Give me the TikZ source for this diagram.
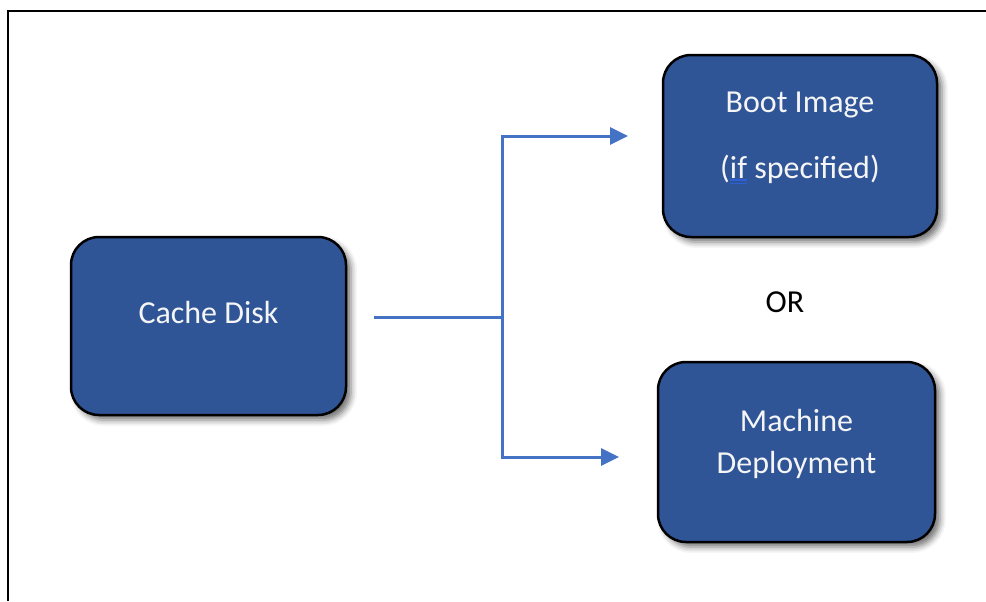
\documentclass[tikz,border=0pt]{standalone}
\usepackage{fontspec}
\setmainfont{Carlito}
\usepackage{xcolor}
\usepackage{tikz}
\usetikzlibrary{positioning, arrows.meta, shadows, shadows.blur}
\definecolor{cdBlue}{RGB}{47, 85, 151}
\definecolor{cdLine}{RGB}{68, 114, 196}
\definecolor{cdMark}{RGB}{45, 95, 215}
\definecolor{cdText}{RGB}{245, 245, 245}
% double blue underline under a word
\newcommand{\markul}[1]{\setbox0=\hbox{#1}\rlap{\color{cdMark}\rule[-1.3pt]{\wd0}{0.8pt}\hspace{-\wd0}\rule[-3.2pt]{\wd0}{0.8pt}}#1}
\tikzset{
    base/.style={
        font=\fontsize{16}{19}\selectfont,
        align=center
    },
    stage/.style={
        rectangle,
        rounded corners=14pt,
        draw=black,
        line width=1.25pt,
        fill=cdBlue,
        inner sep=0pt,
        blur shadow={shadow xshift=2.5pt, shadow yshift=-2.5pt, shadow opacity=55, shadow blur radius=3pt}
    },
    boxtext/.style={
        base,
        text=cdText,
        inner sep=0pt
    },
    flow/.style={
        -{Triangle[length=9pt, width=8.5pt]},
        line width=1.5pt,
        color=cdLine
    },
    frame/.style={
        line width=1pt,
        color=black
    }
}
\begin{document}
\begin{tikzpicture}[x=0.5pt, y=-0.5pt]
  \useasboundingbox (0,0) rectangle (986,601);
  \draw[frame] (7.5,601) -- (7.5,10.5) -- (986,10.5);

  % Boxes
  \node[stage, minimum width=137.5pt, minimum height=89pt,
        label={[boxtext, yshift=6.6pt]center:{Cache Disk}}] (cache) at (208.5,326) {};
  \node[stage, minimum width=137pt, minimum height=91pt,
        label={[boxtext, font=\fontsize{16}{32.75}\selectfont, yshift=3.9pt]center:{Boot Image\\(\markul{if} specified)}}] (boot) at (800,146) {};
  \node[stage, minimum width=138.5pt, minimum height=90pt,
        label={[boxtext, font=\fontsize{16}{21}\selectfont, yshift=3.8pt]center:{Machine\\Deployment}}] (machine) at (796.5,452) {};
  \node[base] (or) at (785,302) {OR};

  % Connectors
  \coordinate (cacheout) at (374,317);
  \coordinate (fork) at (502,317);
  \coordinate (bootin) at (628,136);
  \coordinate (machin) at (619,457);
  \draw[flow, -] (cacheout) -- (fork);
  \draw[flow] (fork) |- (bootin);
  \draw[flow] (fork) |- (machin);
\end{tikzpicture}
\end{document}
